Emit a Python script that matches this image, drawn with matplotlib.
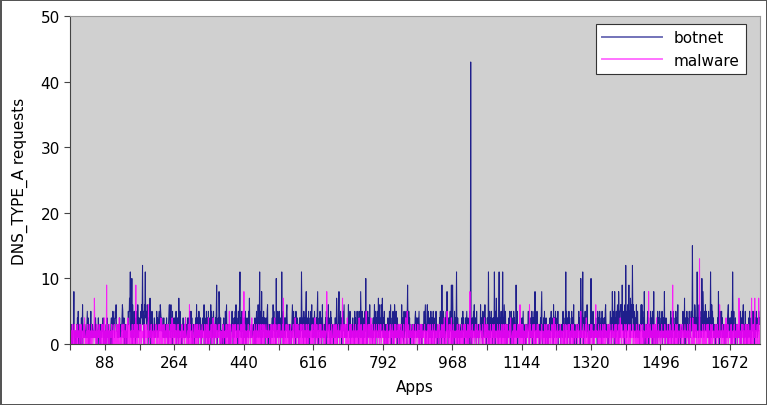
import matplotlib
matplotlib.use("Agg")
import matplotlib.pyplot as plt
from matplotlib.ticker import MultipleLocator, FuncFormatter

# requests per app, one char per app, 88 apps per chunk, groups of 8
# (0-9 then a=10 ... z=35, A=36 ... H=43)
BOTNET_CHUNKS = [
    "21302102 38102120 31425203 10214026 23121321 21351402 30125131 31212314 41320214 10231032 13241021",
    "20130412 31021203 41025342 13546231 12132413 13246512 40213021 02353475 b314a062 31524031 53163142",
    "3425464c 354065b4 53465024 13720415 32132413 21352413 45326542 42312413 21324132 03564136 24051324",
    "31425031 42073152 31203241 23124132 31402415 23514032 32031241 62413052 31420131 42361403 25134052",
    "31426052 41352031 42590314 28531402 21302413 05246132 32031202 32514031 42536142 305146b2 41352403",
    "24135031 42315372 21213212 32014203 51426314 b3150824 13524031 42156031 31203213 41635241 30a24153",
    "31524031 b4135024 31425631 31203231 02461352 41305214 21302413 42b53140 52413580 31425031 42536124",
    "41352031 42580314 25314026 21231324 05241362 41305241 21302314 41275031 48213524 03152461 32123132",
    "36241503 21324132 05241325 31405241 84135203 41352a14 03524136 31231203 41362503 41523716 24136527",
    "31425031 21302413 35246031 42503164 13520413 31203212 63142051 42351049 31524031 21321302 31452413",
    "24135031 21302312 35246031 46250314 13520413 52403125 32031202 42513091 42513041 35281403 41352490",
    "39413052 413b2041 31203212 41352401 32413502 4130521H 03241352 63142051 21302132 62413052 41362403",
    "3142b052 41352403 241b3052 7314206b 31425031 b2416305 21302312 42513052 41305241 32941503 21321231",
    "24135031 21302312 35240314 13520413 52803125 21231302 42581031 42513041 31203212 41352413 06241352",
    "31425031 31203231 35240314 b3520413 52403125 31426031 21302312 352403a4 135b2041 35241362 21302314",
    "a3142503 21324132 05241352 31405241 32415631 31203212 35240384 13528041 52463085 51465639 42513062",
    "c4152635 93517462 5c461352 41363152 31203246 36251408 21302314 52403125 31425038 31203212 05241352",
    "31425031 42813041 21302312 13520413 52403125 31426031 31203212 35241703 41352413 05241352 3f524136",
    "52413b52 41635241 3a528413 52635241 3152403b 41635241 21302312 24183025 41352413 21302312 31456241",
    "3142503b 42513041 31203212 13520413 52603125 21302312 42513041 35241503 41352413 25343",
]

MALWARE_CHUNKS = [
    "12021310 21302120 13102213 02130121 20314201 12031021 30212031 20121731 02130212 13021203 21302140",
    "21209131 02130212 13021203 30212031 20314201 10231203 31202132 02412031 12021310 21302190 13102213",
    "02130121 12031021 31202162 20121301 02130212 13021203 21302140 10231203 12021310 30212031 02412031",
    "13021203 21302120 02130121 20314201 12031061 30212031 10231203 02130212 31202132 12021310 21302140",
    "20121301 02412031 13102213 21302120 02130121 12031021 30252031 10231203 02130212 13021203 21302150",
    "81302120 02130121 20314201 12031021 30212031 10231203 02130212 31202132 12021310 21302140 13102213",
    "02130121 21307120 12031021 30212031 20121301 02412031 13021203 10231203 31202132 02130212 12021310",
    "20314201 13102213 02130121 21302120 12831021 30212031 10231203 02130212 31202132 12702131 21302140",
    "12021310 30212031 02130212 20314201 13021203 21302150 10231203 02412031 12031021 31202132 02130121",
    "21302120 12031021 02130212 30212031 13102213 10231203 20121301 02412051 31202132 12021310 02130121",
    "13021203 02130121 21302120 12031021 30212031 02130212 10231203 31202132 20314201 12051310 21302140",
    "02130121 12021310 21302120 30212031 13021203 12031821 02130212 10231203 31202132 20121301 02412031",
    "21302120 13102213 02130121 12031021 30212031 10231203 02130212 20314201 12021310 31202132 13026203",
    "12031021 02130212 31206132 20121301 13021203 21302120 02130121 10231203 30212031 12021310 02412031",
    "02130121 21302120 12031021 30212031 13102213 02130212 10231203 31202152 12021310 20314201 13021203",
    "21302120 02136121 12031021 30212031 02130212 10231203 31202132 20121301 13021203 02412031 12021310",
    "13102213 02130121 21302120 12031021 30212031 02130212 10231203 31820132 12021310 21302140 02130121",
    "02130121 12031021 21302120 30212039 13021203 02130212 10231203 31202132 12021310 20314201 02413031",
    "21302120 021d0121 12031021 30212031 13021203 02130212 10231203 31202162 12021310 21302140 02130121",
    "12031021 02130212 21302127 30212031 13021203 10231203 31202137 02130217 12021310 27302",
]

SERIES_NAMES = ["botnet", "malware"]
SERIES_COLORS = ["#000080", "#ff00ff"]

DIGITS = "0123456789abcdefghijklmnopqrstuvwxyzABCDEFGH"


def decode(chunks):
    return [DIGITS.index(c) for c in "".join(chunks) if not c.isspace()]


botnet = decode(BOTNET_CHUNKS)
malware = decode(MALWARE_CHUNKS)

if __name__ == "__main__":
    fig = plt.figure(figsize=(7.67, 4.06), dpi=100)
    fig.patch.set_facecolor("white")
    fig.patch.set_edgecolor("#555555")
    fig.patch.set_linewidth(2)

    ax = fig.add_axes([0.0917, 0.150, 0.899, 0.808])
    ax.set_facecolor("#d0d0d0")

    for vals, name, col in zip([botnet, malware], SERIES_NAMES, SERIES_COLORS):
        ax.plot(range(len(vals)), vals, color=col, linewidth=0.75,
                alpha=0.85, label=name)

    n = max(len(botnet), len(malware))
    ax.set_xlim(0, n - 1)
    ax.set_ylim(0, 50)
    ax.yaxis.set_major_locator(MultipleLocator(10))
    ax.xaxis.set_major_locator(MultipleLocator(88))
    # only odd multiples of 88 get a label
    ax.xaxis.set_major_formatter(
        FuncFormatter(lambda v, p: "%d" % v if int(round(v / 88)) % 2 == 1 else ""))

    for side in ["left", "bottom"]:
        ax.spines[side].set_color("#444444")
    for side in ["top", "right"]:
        ax.spines[side].set_color("#999999")
    ax.tick_params(direction="out", length=4, color="#444444",
                   labelsize=11, labelcolor="black")

    ax.set_xlabel("Apps", fontsize=11)
    ax.set_ylabel("DNS_TYPE_A requests", fontsize=11)
    ax.xaxis.set_label_coords(0.5, -0.105)
    ax.yaxis.set_label_coords(-0.062, 0.5)

    leg = ax.legend(loc="upper right", bbox_to_anchor=(0.98, 0.976),
                    borderaxespad=0, fancybox=False, framealpha=1,
                    edgecolor="#333333", fontsize=11, handlelength=3.9)
    leg.get_frame().set_linewidth(0.8)
    for h in leg.get_lines():
        h.set_linewidth(1.4)
        h.set_alpha(0.55)

    fig.savefig("out.png", dpi=100)
